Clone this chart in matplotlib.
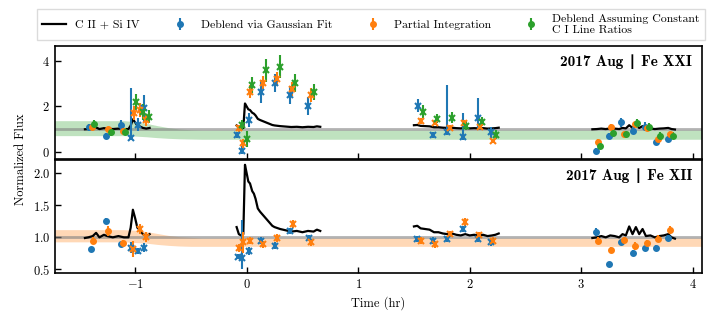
import matplotlib
matplotlib.use("Agg")
import matplotlib.pyplot as plt
import numpy as np

plt.rcParams["font.family"] = "serif"
plt.rcParams["font.serif"] = ["cmr10"]
plt.rcParams["mathtext.fontset"] = "cm"
plt.rcParams["axes.formatter.use_mathtext"] = True
plt.rcParams["axes.unicode_minus"] = True

azul = "#1f77b4"
naranja = "#ff7f0e"
verde = "#2ca02c"

# Curva C II + Si IV (igual en los dos paneles)
linea_t = [
    [-1.45, -1.42, -1.38, -1.35, -1.32, -1.28, -1.25, -1.2, -1.15, -1.1, -1.06,
     -1.04, -1.02, -1.0, -0.98, -0.96, -0.93, -0.9, -0.87],
    [-0.09, -0.07, -0.05, -0.03, -0.015, 0.0, 0.015, 0.03, 0.05, 0.065, 0.08,
     0.1, 0.12, 0.15, 0.18, 0.2, 0.23, 0.25, 0.3, 0.35, 0.4, 0.45, 0.5, 0.55,
     0.6, 0.63, 0.66],
    [1.50, 1.53, 1.56, 1.6, 1.64, 1.68, 1.72, 1.76, 1.8, 1.84, 1.88, 1.92,
     1.96, 2.0, 2.04, 2.08, 2.12, 2.16, 2.2, 2.23, 2.26],
    [3.10, 3.14, 3.18, 3.22, 3.26, 3.3, 3.34, 3.37, 3.4, 3.43, 3.46, 3.49,
     3.52, 3.55, 3.58, 3.62, 3.66, 3.7, 3.74, 3.78, 3.81, 3.84],
]
linea_v = [
    [0.99, 1.0, 1.02, 1.07, 1.0, 1.04, 1.02, 1.0, 1.02, 1.0, 1.0,
     1.15, 1.43, 1.3, 1.15, 1.12, 1.05, 1.02, 1.05],
    [1.16, 1.05, 1.03, 1.05, 2.13, 2.0, 1.87, 1.84, 1.72, 1.68, 1.6,
     1.45, 1.4, 1.34, 1.28, 1.24, 1.18, 1.16, 1.13, 1.11, 1.09, 1.1, 1.08,
     1.1, 1.09, 1.12, 1.1],
    [1.17, 1.18, 1.14, 1.13, 1.12, 1.08, 1.08, 1.06, 1.05, 1.06, 1.04, 1.03,
     1.05, 1.03, 1.04, 1.03, 1.04, 1.02, 1.03, 1.04, 1.06],
    [0.99, 1.0, 1.02, 1.0, 1.03, 1.02, 1.0, 1.05, 1.03, 1.17, 1.05, 1.16,
     1.05, 1.13, 1.02, 1.03, 1.0, 1.02, 1.03, 1.05, 1.0, 0.98],
]

# Fe XXI (panel superior): puntos con circulo y con x
fe21_circ_t = [-1.41, -1.26, -1.13, 3.13, 3.245, 3.36, 3.46, 3.57, 3.67, 3.78]
fe21_circ_gauss = [1.08, 0.71, 1.18, 0.03, 0.69, 1.3, 0.93, 1.1, 0.42, 0.56]
fe21_circ_gauss_err = [0.15, 0.1, 0.2, 0.15, 0.15, 0.2, 0.15, 0.2, 0.12, 0.12]
fe21_circ_parcial = [1.1, 1.0, 0.92, 0.42, 1.1, 0.77, 1.21, 1.03, 0.56, 0.77]
fe21_circ_parcial_err = [0.12, 0.1, 0.12, 0.15, 0.12, 0.12, 0.12, 0.1, 0.1, 0.1]
fe21_circ_const = [1.21, 0.86, 0.89, 0.25, 0.81, 0.77, 1.26, 1.1, 0.71, 0.71]
fe21_circ_const_err = [0.18, 0.15, 0.15, 0.12, 0.15, 0.15, 0.2, 0.15, 0.15, 0.15]

fe21_x_t = [-1.04, -0.97, -0.92, -0.09, -0.04, 0.02, 0.13, 0.25, 0.39, 0.55,
            1.54, 1.67, 1.80, 1.94, 2.07, 2.19]
fe21_x_gauss = [0.62, 1.2, 1.92, 0.74, 0.05, 1.4, 2.65, 3.05, 2.5, 2.0,
                2.04, 0.74, 0.86, 0.66, 1.5, 0.86]
fe21_x_gauss_lo = [0.1, 0.3, 0.6, 0.15, 0.15, 0.3, 0.5, 0.4, 0.4, 0.4,
                   0.3, 0.15, 0.12, 0.14, 0.47, 0.25]
fe21_x_gauss_hi = [2.2, 0.3, 0.6, 0.15, 0.2, 0.3, 0.5, 0.4, 0.4, 0.4,
                   0.3, 0.15, 2.1, 1.04, 0.86, 0.25]
fe21_x_parcial = [1.7, 1.85, 1.4, 1.03, 0.37, 2.65, 3.05, 3.2, 2.76, 2.5,
                  1.36, 1.26, 1.06, 1.26, 1.1, 0.47]
fe21_x_parcial_err = [0.3, 0.3, 0.25, 0.15, 0.2, 0.3, 0.3, 0.3, 0.3, 0.3,
                      0.12, 0.1, 0.1, 0.12, 0.1, 0.08]
fe21_x_const = [2.21, 1.77, 1.55, 1.18, 0.56, 2.95, 3.6, 3.76, 3.03, 2.65,
                1.77, 1.45, 1.5, 1.15, 1.33, 0.74]
fe21_x_const_err = [0.35, 0.35, 0.3, 0.2, 0.35, 0.35, 0.5, 0.5, 0.4, 0.35,
                    0.3, 0.2, 0.25, 0.2, 0.2, 0.2]
fe21_x_t_parcial = [-1.01, -0.955, -0.90, -0.065, -0.03, 0.03, 0.15, 0.27,
                    0.41, 0.58, 1.56, 1.69, 1.82, 1.95, 2.09, 2.21]
fe21_x_t_const = [-0.99, -0.93, -0.88, -0.04, 0.0, 0.05, 0.17, 0.30, 0.435,
                  0.60, 1.58, 1.71, 1.84, 1.97, 2.11, 2.24]

# Fe XII (panel inferior)
fe12_circ_t = [-1.40, -1.26, -1.13, 3.13, 3.245, 3.36, 3.46, 3.57, 3.67, 3.78]
fe12_circ_gauss = [0.82, 1.26, 0.9, 1.08, 0.59, 0.92, 0.76, 0.83, 0.84, 0.99]
fe12_circ_gauss_err = [0.03, 0.04, 0.03, 0.06, 0.03, 0.03, 0.04, 0.04, 0.04, 0.04]
fe12_circ_parcial = [0.95, 1.1, 0.91, 0.95, 0.8, 0.96, 0.87, 0.91, 0.98, 1.12]
fe12_circ_parcial_err = [0.05, 0.08, 0.05, 0.05, 0.05, 0.05, 0.06, 0.05, 0.05, 0.06]

fe12_x_t = [-1.04, -0.97, -0.92, -0.08, -0.04, 0.02, 0.13, 0.255, 0.39, 0.555,
            1.53, 1.67, 1.80, 1.94, 2.07, 2.19]
fe12_x_gauss = [0.84, 0.79, 0.84, 0.70, 0.68, 0.79, 0.95, 0.87, 1.1, 0.99,
                0.97, 0.95, 0.97, 1.13, 0.97, 0.92]
fe12_x_gauss_lo = [0.08, 0.05, 0.07, 0.04, 0.18, 0.06, 0.05, 0.05, 0.04, 0.05,
                   0.05, 0.05, 0.05, 0.05, 0.05, 0.05]
fe12_x_gauss_hi = [0.08, 0.05, 0.07, 0.04, 0.59, 0.06, 0.05, 0.05, 0.04, 0.05,
                   0.05, 0.05, 0.05, 0.05, 0.05, 0.05]
fe12_x_t_parcial = [-1.015, -0.955, -0.90, -0.065, -0.03, 0.03, 0.145, 0.275,
                    0.415, 0.575, 1.56, 1.685, 1.82, 1.955, 2.08, 2.21]
fe12_x_parcial = [0.82, 1.13, 1.0, 0.83, 0.92, 0.95, 0.89, 0.99, 1.21, 0.92,
                  0.95, 0.89, 1.05, 1.24, 1.03, 0.95]
fe12_x_parcial_err = [0.12, 0.08, 0.08, 0.06, 0.17, 0.06, 0.05, 0.06, 0.06, 0.05,
                      0.05, 0.05, 0.05, 0.06, 0.05, 0.05]

# Bandas sombreadas
banda_t = [-1.72, -1.1, -1.0, -0.9, -0.8, -0.7, -0.6, -0.5, -0.4, 4.08]
banda21_lo = [0.71, 0.71, 0.69, 0.66, 0.62, 0.59, 0.57, 0.56, 0.55, 0.55]
banda21_hi = [1.37, 1.37, 1.33, 1.25, 1.15, 1.06, 1.0, 0.97, 0.96, 0.96]
banda12_lo = [0.93, 0.93, 0.92, 0.91, 0.89, 0.875, 0.865, 0.86, 0.86, 0.86]
banda12_hi = [1.12, 1.12, 1.11, 1.09, 1.06, 1.03, 1.01, 1.0, 0.99, 0.99]

titulos = ["2017 Aug \u2223 Fe XXI", "2017 Aug \u2223 Fe XII"]


def dibujar_linea(ax, etiqueta=None):
    for i, (t, v) in enumerate(zip(linea_t, linea_v)):
        ax.plot(t, v, color="black", lw=1.6, zorder=3,
                label=etiqueta if i == 0 else None)


fig, (ax1, ax2) = plt.subplots(2, 1, sharex=True, figsize=(7.12, 3.12), dpi=100)
fig.subplots_adjust(left=0.077, right=0.9855, top=0.852, bottom=0.124, hspace=0.01)

estilo = dict(ls="none", ms=4, elinewidth=1.5, capsize=0, zorder=4)
estilo_x = dict(ls="none", ms=4, mew=1.5, elinewidth=1.5, capsize=0, zorder=4)

# Panel superior
ax1.fill_between(banda_t, banda21_lo, banda21_hi, color=verde, alpha=0.3, lw=0)
ax1.axhline(1.0, color="gray", alpha=0.6, lw=2)
dibujar_linea(ax1, "C II + Si IV")
ax1.errorbar(fe21_circ_t, fe21_circ_gauss, yerr=fe21_circ_gauss_err, fmt="o",
             color=azul, label="Deblend via Gaussian Fit", **estilo)
ax1.errorbar(np.array(fe21_circ_t) + 0.02, fe21_circ_parcial, yerr=fe21_circ_parcial_err,
             fmt="o", color=naranja, label="Partial Integration", **estilo)
ax1.errorbar(np.array(fe21_circ_t) + 0.04, fe21_circ_const, yerr=fe21_circ_const_err,
             fmt="o", color=verde,
             label="Deblend Assuming Constant\nC I Line Ratios", **estilo)
ax1.errorbar(fe21_x_t, fe21_x_gauss, yerr=[fe21_x_gauss_lo, fe21_x_gauss_hi],
             fmt="x", color=azul, **estilo_x)
ax1.errorbar(fe21_x_t_parcial, fe21_x_parcial, yerr=fe21_x_parcial_err,
             fmt="x", color=naranja, **estilo_x)
ax1.errorbar(fe21_x_t_const, fe21_x_const, yerr=fe21_x_const_err,
             fmt="x", color=verde, **estilo_x)
ax1.set_ylim(-0.33, 4.66)
ax1.set_yticks([0, 2, 4])
ax1.text(0.985, 0.93, titulos[0], transform=ax1.transAxes, ha="right", va="top",
         fontsize=11, family=["cmb10", "DejaVu Sans"], weight="bold")

# Panel inferior
ax2.fill_between(banda_t, banda12_lo, banda12_hi, color=naranja, alpha=0.3, lw=0)
ax2.axhline(1.0, color="gray", alpha=0.6, lw=2)
dibujar_linea(ax2)
ax2.errorbar(fe12_circ_t, fe12_circ_gauss, yerr=fe12_circ_gauss_err, fmt="o",
             color=azul, **estilo)
ax2.errorbar(np.array(fe12_circ_t) + 0.02, fe12_circ_parcial, yerr=fe12_circ_parcial_err,
             fmt="o", color=naranja, **estilo)
ax2.errorbar(fe12_x_t, fe12_x_gauss, yerr=[fe12_x_gauss_lo, fe12_x_gauss_hi],
             fmt="x", color=azul, **estilo_x)
ax2.errorbar(fe12_x_t_parcial, fe12_x_parcial, yerr=fe12_x_parcial_err,
             fmt="x", color=naranja, **estilo_x)
ax2.set_ylim(0.44, 2.2)
ax2.set_yticks([0.5, 1.0, 1.5, 2.0])
ax2.text(0.985, 0.93, titulos[1], transform=ax2.transAxes, ha="right", va="top",
         fontsize=11, family=["cmb10", "DejaVu Sans"], weight="bold")

ax2.set_xlim(-1.72, 4.08)
ax2.set_xticks([-1, 0, 1, 2, 3, 4])
ax2.set_xlabel("Time (hr)", fontsize=9)
fig.text(0.03, 0.49, "Normalized Flux", rotation=90, ha="center", va="center", fontsize=9)

for ax in (ax1, ax2):
    ax.tick_params(direction="in", labelsize=9, width=1, length=4)
    for s in ax.spines.values():
        s.set_linewidth(1.2)

fig.legend(loc="upper center", bbox_to_anchor=(0.521, 0.978), ncol=4, fontsize=8.5,
           columnspacing=2.4, handlelength=2.0, fancybox=False, edgecolor="lightgray",
           borderaxespad=0.2)

fig.savefig("out.png", dpi=100)
